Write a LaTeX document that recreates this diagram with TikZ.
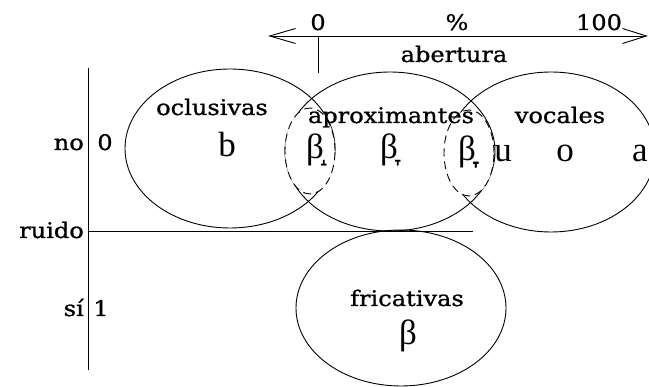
\documentclass[tikz,border=0pt]{standalone}
\usepackage{fontspec}
\setmainfont{Liberation Serif}
\usetikzlibrary{shapes.geometric,arrows.meta}
\newfontfamily\lblfont[FakeStretch=1.12,FakeBold=1]{DejaVu Serif}
\tikzset{
  lbl/.style={font=\lblfont\fontsize{21.5}{25}\selectfont, inner sep=0pt, anchor=base},
  ipa/.style={font=\rmfamily\fontsize{35}{40}\selectfont, inner sep=0pt, anchor=base},
  zone/.style={draw, ellipse, inner sep=0pt, line width=0.9pt},
  lens/.style={draw, fill=white, ellipse, inner sep=0pt, line width=0.9pt, dash pattern=on 8pt off 5pt},
  axis/.style={line width=0.9pt},
  barb/.style={line width=0.9pt, {Straight Barb[length=26pt,width=15pt]}-{Straight Barb[length=24pt,width=15pt]}}
}
\begin{document}
\begin{tikzpicture}[x=1pt,y=-1pt]
\useasboundingbox (0,0) rectangle (649,387);
% ellipses
\node[zone, minimum width=210pt, minimum height=159pt] (ocl) at (230,148.5) {};
\node[zone, minimum width=210pt, minimum height=159pt] (apr) at (390,151.5) {};
\node[zone, minimum width=208pt, minimum height=160pt] (voc) at (551,152) {};
\node[zone, minimum width=210pt, minimum height=156pt] (fri) at (401,308) {};
\node[lens, minimum width=50pt, minimum height=86pt] (lensA) at (310,151) {};
\node[lens, minimum width=50pt, minimum height=86pt] (lensB) at (469,153) {};
% top axis
\coordinate (abL) at (268,36);
\coordinate (abR) at (648,36);
\draw[barb] (abL) -- (abR);
\coordinate (tickT) at (318,36);
\coordinate (tickB) at (318,73);
\draw[axis] (tickT) -- (tickB);
\node[lbl] (z0) at (318,30) {0};
\node[lbl] (pct) at (457,30) {\%};
\node[lbl] (c100) at (599,30) {100};
\node[lbl] (abert) at (454,62) {abertura};
% left axis
\coordinate (vT) at (88,68);
\coordinate (vB) at (88,370);
\draw[axis] (vT) -- (vB);
\coordinate (rL) at (88,231);
\coordinate (rR) at (473,231);
\draw[axis] (rL) -- (rR);
\node[lbl, anchor=base east] (no) at (84,150) {no};
\node[lbl] (n0) at (105,150) {0};
\node[lbl, anchor=base east] (ruido) at (84,238) {ruido};
\node[lbl, anchor=base east] (si) at (84,316) {sí};
\node[lbl] (n1) at (101,316) {1};
% zone labels
\node[lbl] (tocl) at (212,115) {oclusivas};
\node[lbl] (tapr) at (391,123) {aproximantes};
\node[lbl] (tvoc) at (560,123) {vocales};
\node[lbl] (tfri) at (407,306) {fricativas};
% sounds
\node[ipa] (sb) at (227,157) {b};
\node[ipa] (s1) at (315,159) {β̝};
\node[ipa] (s2) at (389,159) {β̞};
\node[ipa] (s3) at (467,161) {β̞̞};
\node[ipa] (su) at (503,162) {u};
\node[ipa] (so) at (565,162) {o};
\node[ipa] (sa) at (640,162) {a};
\node[ipa] (sf) at (408,345) {β};
\end{tikzpicture}
\end{document}
